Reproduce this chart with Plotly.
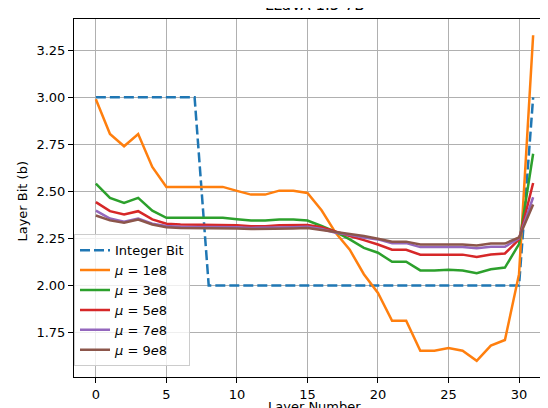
import plotly.graph_objects as go

layers = list(range(32))

integer_bit = [3.0] * 8 + [2.0] * 23 + [3.0]

mu_1e8 = [2.99, 2.805, 2.74, 2.805, 2.63, 2.524, 2.524, 2.524, 2.524, 2.524,
          2.503, 2.483, 2.483, 2.504, 2.504, 2.492, 2.40, 2.28, 2.19, 2.06,
          1.96, 1.812, 1.812, 1.653, 1.653, 1.667, 1.653, 1.60, 1.68, 1.71,
          2.06, 3.33]
mu_3e8 = [2.542, 2.466, 2.439, 2.466, 2.398, 2.36, 2.36, 2.36, 2.36, 2.36,
          2.352, 2.345, 2.345, 2.351, 2.351, 2.345, 2.316, 2.285, 2.245, 2.20,
          2.174, 2.126, 2.126, 2.08, 2.08, 2.083, 2.08, 2.065, 2.086, 2.095,
          2.22, 2.70]
mu_5e8 = [2.443, 2.395, 2.377, 2.395, 2.351, 2.328, 2.324, 2.324, 2.324, 2.324,
          2.32, 2.315, 2.315, 2.32, 2.32, 2.322, 2.31, 2.285, 2.263, 2.241,
          2.218, 2.19, 2.19, 2.164, 2.164, 2.164, 2.164, 2.151, 2.165, 2.17,
          2.245, 2.545]
mu_7e8 = [2.398, 2.356, 2.339, 2.356, 2.328, 2.316, 2.312, 2.312, 2.312, 2.312,
          2.31, 2.306, 2.306, 2.31, 2.31, 2.312, 2.30, 2.28, 2.27, 2.255,
          2.245, 2.225, 2.225, 2.204, 2.204, 2.204, 2.204, 2.198, 2.206, 2.206,
          2.25, 2.469]
mu_9e8 = [2.372, 2.346, 2.333, 2.35, 2.324, 2.31, 2.305, 2.305, 2.305, 2.305,
          2.303, 2.30, 2.30, 2.303, 2.303, 2.305, 2.295, 2.283, 2.275, 2.263,
          2.248, 2.233, 2.233, 2.218, 2.218, 2.218, 2.218, 2.213, 2.223, 2.223,
          2.255, 2.43]

series = [
    ("<i>μ</i> = 1<i>e</i>8", mu_1e8, "#ff7f0e"),
    ("<i>μ</i> = 3<i>e</i>8", mu_3e8, "#2ca02c"),
    ("<i>μ</i> = 5<i>e</i>8", mu_5e8, "#d62728"),
    ("<i>μ</i> = 7<i>e</i>8", mu_7e8, "#9467bd"),
    ("<i>μ</i> = 9<i>e</i>8", mu_9e8, "#8c564b"),
]

y_ticks = [1.75, 2.0, 2.25, 2.5, 2.75, 3.0, 3.25]
x_ticks = [0, 5, 10, 15, 20, 25, 30]

fig = go.Figure()
fig.add_trace(go.Scatter(x=layers, y=integer_bit, mode="lines", name="Integer Bit",
                         line=dict(color="#1f77b4", width=2.5, dash="10px,4px")))
for name, vals, col in series:
    fig.add_trace(go.Scatter(x=layers, y=vals, mode="lines", name=name,
                             line=dict(color=col, width=2.5)))

axis_common = dict(showline=True, linecolor="black", linewidth=1, mirror=True,
                   ticks="outside", ticklen=5, tickcolor="black",
                   showgrid=True, gridcolor="#b0b0b0", gridwidth=1, zeroline=False,
                   tickfont=dict(size=13, color="black"))

fig.update_layout(
    width=548, height=408,
    margin=dict(l=66, r=1, t=11, b=39),
    paper_bgcolor="white", plot_bgcolor="white",
    font=dict(family="DejaVu Sans", size=13, color="black"),
    showlegend=True,
    legend=dict(x=0.0, y=0.03, xanchor="left", yanchor="bottom",
                bgcolor="rgba(255,255,255,0.8)", bordercolor="#cccccc", borderwidth=1,
                font=dict(size=13), tracegroupgap=0, itemwidth=30),
    xaxis=dict(range=[-1.55, 32.55], tickvals=x_ticks, **axis_common),
    yaxis=dict(range=[1.5135, 3.4165], tickvals=y_ticks,
               ticktext=[f"{v:.2f}" for v in y_ticks], **axis_common),
    annotations=[
        dict(text="LLaVA-1.5-7B", xref="paper", yref="paper", x=0.5, y=1,
             xanchor="center", yanchor="bottom", yshift=3, showarrow=False,
             font=dict(size=15, color="black")),
        dict(text="Layer Number", xref="paper", yref="paper", x=0.5, y=0,
             xanchor="center", yanchor="top", yshift=-20, showarrow=False,
             font=dict(size=13, color="black")),
        dict(text="Layer Bit (b)", xref="paper", yref="paper", x=0, y=0.49,
             xanchor="center", yanchor="middle", xshift=-51, textangle=-90,
             showarrow=False, font=dict(size=13, color="black")),
    ],
)

fig.write_html("out.html")
